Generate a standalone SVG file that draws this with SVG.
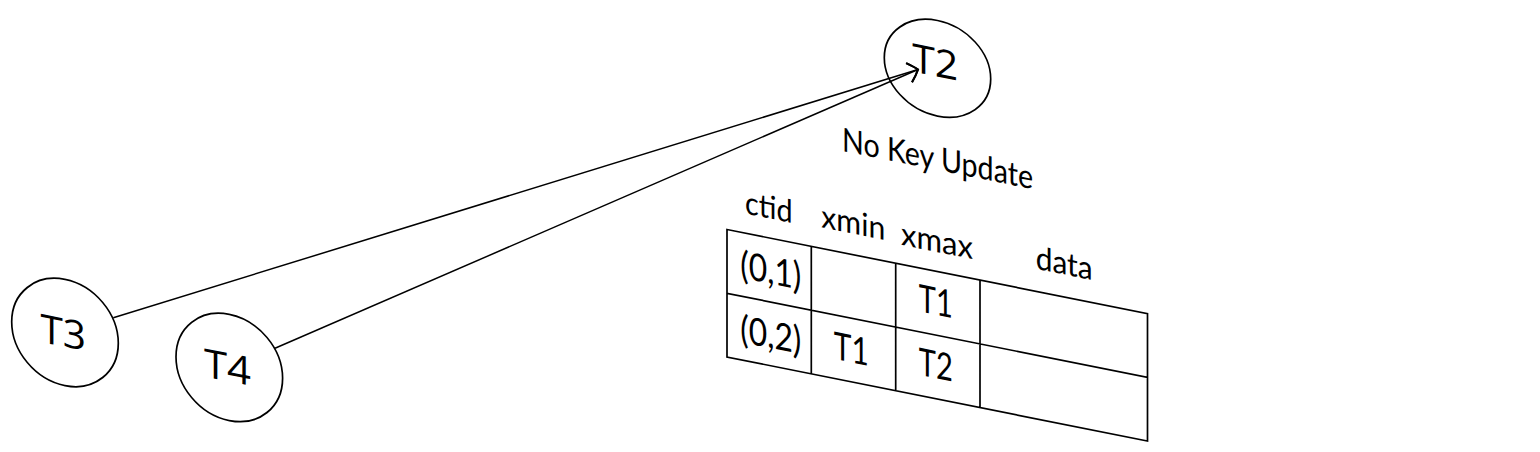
<svg xmlns="http://www.w3.org/2000/svg" width="1540" height="452" viewBox="0 0 1540 452">
  <style>
    .shape { fill: none; stroke: #000; stroke-width: 1.7; }
    .grid { fill: none; stroke: #000; stroke-width: 1.7; }
    .conn { fill: none; stroke: #000; stroke-width: 1.5; }
    .node-label { font-family: "Open Sans", "Liberation Sans", sans-serif; font-size: 39.5px; fill: #000; text-anchor: middle; }
    .hdr { font-family: Lato, "Liberation Sans", sans-serif; font-size: 32px; fill: #000; text-anchor: middle; }
    .cell { font-family: Lato, "Liberation Sans", sans-serif; font-size: 38px; fill: #000; text-anchor: middle; }
    .title { font-family: Lato, "Liberation Sans", sans-serif; font-size: 33px; fill: #000; text-anchor: middle; }
  </style>
  <defs>
    <marker id="arrow" markerUnits="userSpaceOnUse" orient="-20" refX="0" refY="0" markerWidth="30" markerHeight="30" overflow="visible">
      <path d="M-9,-10 Q-3,-4 0,0 Q-4,5 -10,10" fill="none" stroke="#000" stroke-width="2"/>
    </marker>
  </defs>
  <rect width="1540" height="452" fill="#fff"/>

  <g id="connectors">
    <line class="conn" x1="113.3" y1="317.7" x2="918" y2="69.5" marker-end="url(#arrow)"/>
    <line class="conn" x1="275" y1="348.3" x2="918" y2="69.5" marker-end="url(#arrow)"/>
  </g>

  <g transform="matrix(1,0.2,0,1,0,-145.4)">
    <g id="node-T2">
      <ellipse class="shape" cx="937.5" cy="26.2" rx="53.2" ry="47.8"/>
      <text class="node-label" x="935.3" y="34.5" textLength="46" lengthAdjust="spacingAndGlyphs">T2</text>
    </g>
    <g id="node-T3">
      <ellipse class="shape" cx="65" cy="464.9" rx="53.3" ry="53.1"/>
      <text class="node-label" x="63.3" y="479.2" textLength="45.5" lengthAdjust="spacingAndGlyphs">T3</text>
    </g>
    <g id="node-T4">
      <ellipse class="shape" cx="229.3" cy="467" rx="53.3" ry="53.1"/>
      <text class="node-label" x="227.5" y="481" textLength="47" lengthAdjust="spacingAndGlyphs">T4</text>
    </g>

    <g id="label-no-key-update">
      <text class="title" x="937.5" y="128" textLength="191" lengthAdjust="spacingAndGlyphs">No Key Update</text>
    </g>

    <g id="tuple-table">
      <path class="grid" d="M727,229.5 H1147.5 V357 H727 Z M727,293.3 H1147.5 M811.3,229.5 V357 M895.7,229.5 V357 M980,229.5 V357"/>
      <text class="hdr" x="768.8" y="210" textLength="47.5" lengthAdjust="spacingAndGlyphs">ctid</text>
      <text class="hdr" x="853.3" y="208.5" textLength="64" lengthAdjust="spacingAndGlyphs">xmin</text>
      <text class="hdr" x="937" y="210" textLength="72" lengthAdjust="spacingAndGlyphs">xmax</text>
      <text class="hdr" x="1064.2" y="207" textLength="57" lengthAdjust="spacingAndGlyphs">data</text>
      <text class="cell" x="770.8" y="275" textLength="61" lengthAdjust="spacingAndGlyphs">(0,1)</text>
      <text class="cell" x="770.8" y="339.3" textLength="61" lengthAdjust="spacingAndGlyphs">(0,2)</text>
      <text class="cell" x="851.3" y="337.5" textLength="35" lengthAdjust="spacingAndGlyphs">T1</text>
      <text class="cell" x="935.8" y="273" textLength="34" lengthAdjust="spacingAndGlyphs">T1</text>
      <text class="cell" x="935.8" y="336.5" textLength="34" lengthAdjust="spacingAndGlyphs">T2</text>
    </g>
  </g>
</svg>
